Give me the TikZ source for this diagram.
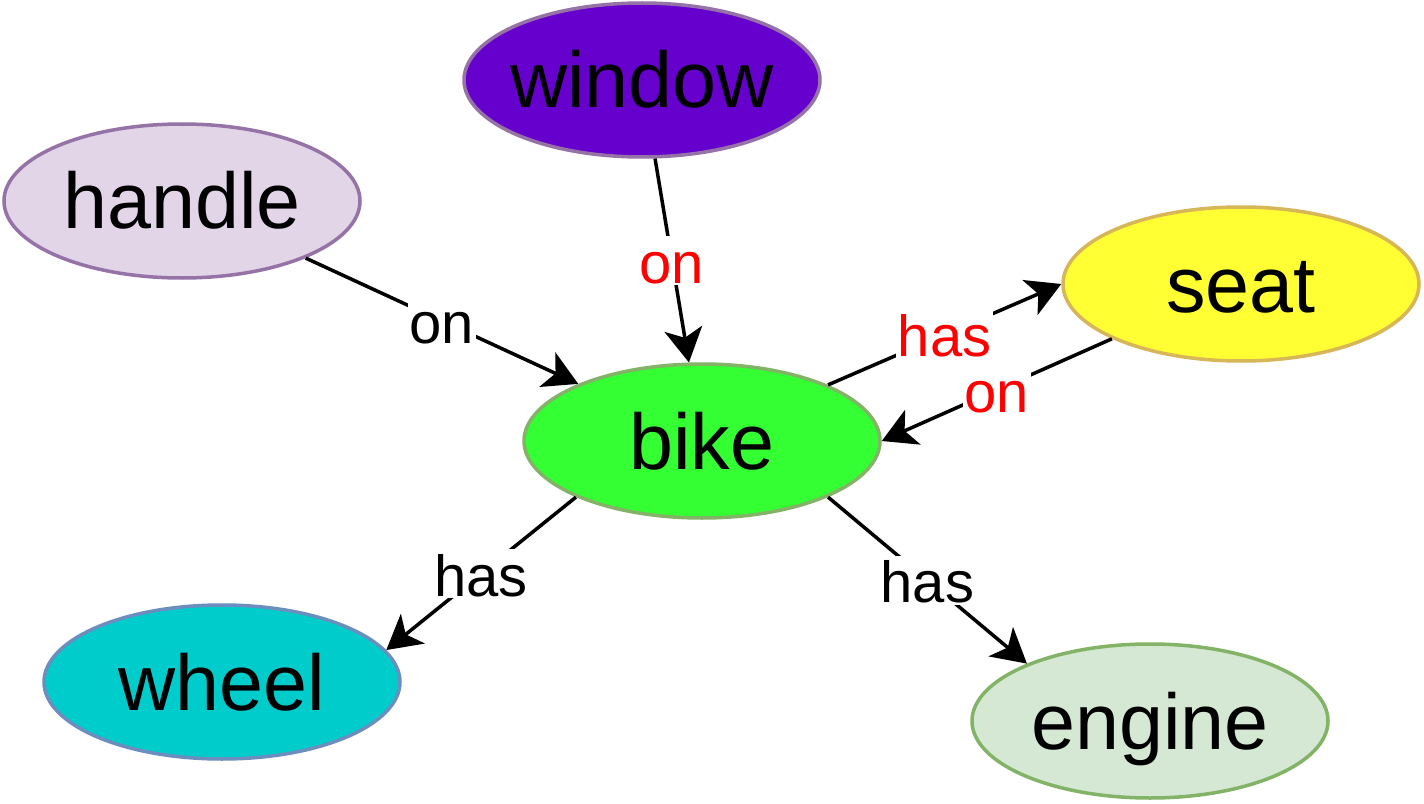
\documentclass[tikz,border=0pt]{standalone}
\usepackage{fontspec}
\setmainfont{Liberation Sans}
\usepackage{tikz}
\usetikzlibrary{arrows.meta,shapes.geometric}
\definecolor{window-fill}{HTML}{6600CC}
\definecolor{handle-fill}{HTML}{E1D5E7}
\definecolor{purple-line}{HTML}{9673A6}
\definecolor{seat-fill}{HTML}{FFFF33}
\definecolor{seat-line}{HTML}{D6B656}
\definecolor{bike-fill}{HTML}{33FF33}
\definecolor{green-line}{HTML}{82B366}
\definecolor{wheel-fill}{HTML}{00CCCC}
\definecolor{wheel-line}{HTML}{6C8EBF}
\definecolor{engine-fill}{HTML}{D5E8D4}

\begin{document}
\begin{tikzpicture}[
    part/.style={ellipse,draw,line width=0.07cm,minimum width=7.12cm,minimum height=3.08cm,
      inner sep=0pt,inner xsep=-1cm,text height=1.12cm,text depth=0pt,
      font=\fontsize{45}{54}\selectfont},
    rel/.style={line width=0.07cm,-{Stealth[length=0.68cm,width=0.76cm,inset=0.18cm]}},
    lbl/.style={fill=white,inner sep=1pt,text height=0.9cm,text depth=0pt,
      font=\fontsize{33}{40}\selectfont}
  ]
  \fill[white] (0,0) rectangle (28.48,-16.08);
  \useasboundingbox (0,0) rectangle (28.48,-16.08);
  \node[part,draw=purple-line,fill=window-fill] (window) at (12.84,-1.60) {window};
  \node[part,draw=purple-line,fill=handle-fill] (handle) at (3.64,-4.02) {handle};
  \node[part,draw=seat-line,fill=seat-fill] (seat) at (24.82,-5.68) {seat};
  \node[part,draw=green-line,fill=bike-fill] (bike) at (14.04,-8.82) {bike};
  \node[part,draw=wheel-line,fill=wheel-fill] (wheel) at (4.44,-13.64) {wheel};
  \node[part,draw=green-line,fill=engine-fill] (engine) at (23.00,-14.42) {engine};
  \draw[rel] (handle) -- node[lbl] {on} (bike);
  \draw[rel] (window) -- node[lbl,text=red] {on} (bike);
  \draw[rel] (bike.24.4) -- node[lbl,text=red] {has} (seat.180);
  \draw[rel] (seat.203.6) -- node[lbl,text=red] {on} (bike.0);
  \draw[rel] (bike.204.9) -- node[lbl] {has} (wheel.11.8);
  \draw[rel] (bike.-24.7) -- node[lbl] {has} (engine.155.6);
\end{tikzpicture}
\end{document}
